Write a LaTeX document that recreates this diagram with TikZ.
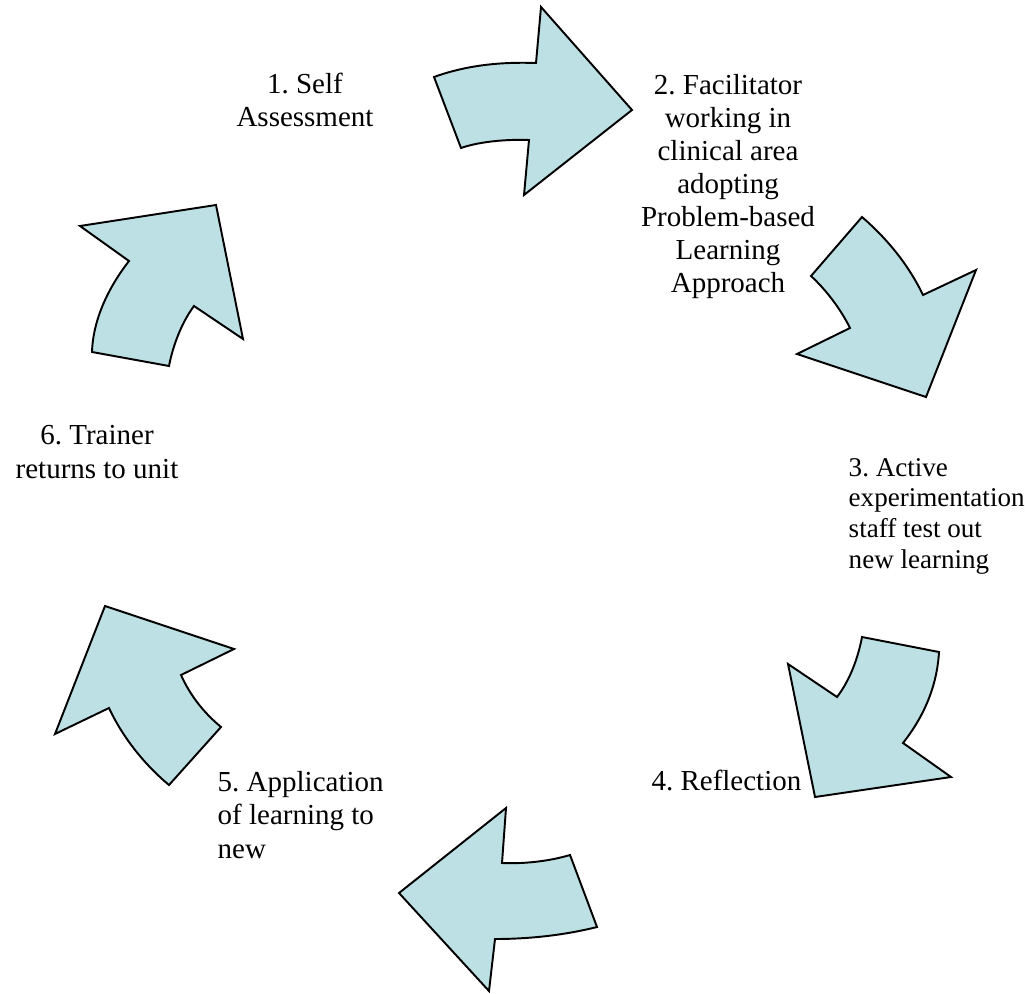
\documentclass[tikz,border=0pt]{standalone}
\usepackage{fontspec}
\setmainfont{Liberation Serif}
\usepackage{tikz}
\frenchspacing
\definecolor{arrowblue}{RGB}{189,224,228}
\tikzset{
  bigarrow/.style={fill=arrowblue, draw=black, line width=0.55pt, line join=miter},
  steplabel/.style={inner sep=0pt, align=center, font=\fontsize{8.25}{9.4}\selectfont},
}

\begin{document}
\begin{tikzpicture}[x=0.1mm, y=-0.1mm]
    \useasboundingbox (0,0) rectangle (1025,993);
    % arrow 1 -> 2
    \draw[bigarrow] (434,77) .. controls (470,64) and (505,62) .. (536,63)
        -- (541,7) -- (632,110) -- (524,195) -- (529,140)
        .. controls (500,139) and (475,143) .. (461,148) -- cycle;
    % arrow 2 -> 3
    \draw[bigarrow] (862,217) .. controls (885,237) and (907,262) .. (923,295)
        -- (976,270) -- (926,397) -- (797,354) -- (850,328)
        .. controls (840,308) and (826,290) .. (811,276) -- cycle;
    % arrow 3 -> 4
    \draw[bigarrow] (862,637) -- (939,652)
        .. controls (937,685) and (925,715) .. (903,743)
        -- (951,777) -- (815,797) -- (788,664) -- (837,697)
        .. controls (850,680) and (858,658) .. (862,637) -- cycle;
    % arrow 4 -> 5
    \draw[bigarrow] (506,808) -- (502,863)
        .. controls (525,864) and (550,861) .. (570,855)
        -- (597,927) .. controls (565,935) and (530,939) .. (495,939)
        -- (489,991) -- (399,893) -- cycle;
    % arrow 5 -> 6
    \draw[bigarrow] (105,606) -- (234,649) -- (181,675)
        .. controls (190,695) and (203,712) .. (221,727)
        -- (169,785) .. controls (145,765) and (123,738) .. (109,708)
        -- (55,734) -- cycle;
    % arrow 6 -> 1
    \draw[bigarrow] (80,226) -- (216,205) -- (243,339) -- (194,306)
        .. controls (182,322) and (173,345) .. (169,366)
        -- (92,352) .. controls (93,320) and (108,288) .. (129,261) -- cycle;

    % labels (base = last line)
    \node[steplabel, anchor=base] (self) at (305,127) {1. Self\\Assessment};
    \node[steplabel, anchor=base] (facil) at (728,293)
        {2. Facilitator\\working in\\clinical area\\adopting\\Problem-based\\Learning\\Approach};
    \node[steplabel, anchor=base west, align=left, font=\fontsize{7.7}{8.68}\selectfont] (active) at (848,568)
        {3. Active\\experimentation\\staff test out\\new learning};
    \node[steplabel, anchor=base east] (refl) at (802,790) {4. Reflection};
    \node[steplabel, anchor=base west, align=left] (appl) at (217,858)
        {5. Application\\of learning to\\new};
    \node[steplabel, anchor=base] (trainer) at (97,478) {6. Trainer\\returns to unit};
\end{tikzpicture}
\end{document}
